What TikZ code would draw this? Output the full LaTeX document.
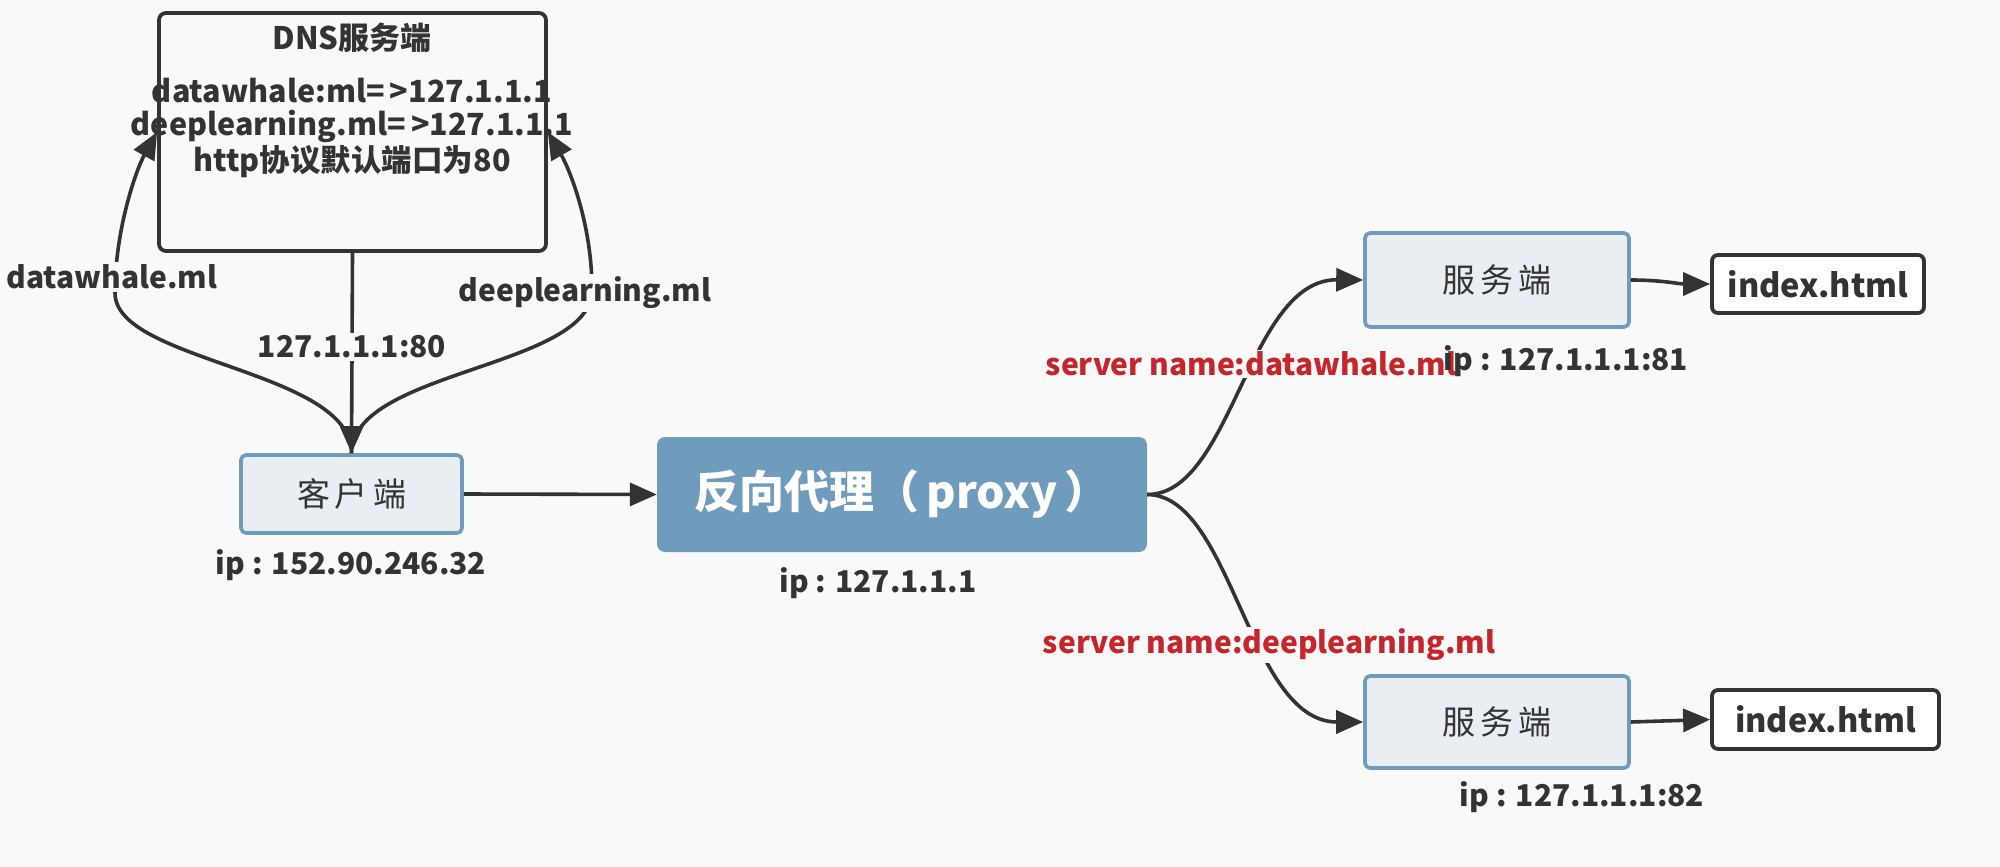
\documentclass[tikz,border=0pt]{standalone}
\usepackage{fontspec}
\setmainfont{Noto Sans CJK SC}
\usetikzlibrary{arrows.meta}
\definecolor{bg}{HTML}{F9F9F9}
\definecolor{ink}{HTML}{333333}
\definecolor{steel}{HTML}{6F9CBD}
\definecolor{pale}{HTML}{E8EEF2}
\definecolor{redlab}{HTML}{C4262B}
\tikzset{
  conn/.style={draw=ink, line width=3.6pt, -{Triangle[length=27pt,width=23pt]}},
  lab/.style={text=ink, font=\fontsize{30}{34}\selectfont\bfseries, inner sep=3pt},
  labbg/.style={lab, fill=bg},
  redl/.style={text=redlab, font=\fontsize{30}{34}\selectfont\bfseries, inner sep=2pt, fill=bg},
  dnsbox/.style={draw=ink, line width=3.8pt, rounded corners=7pt, fill=bg},
  palebox/.style={draw=steel, fill=pale, line width=3.6pt, rounded corners=5pt, text=ink, font=\fontsize{33}{36}\selectfont},
  proxybox/.style={fill=steel, rounded corners=8pt, text=white, font=\fontsize{45}{50}\selectfont\bfseries},
  filebox/.style={draw=ink, fill=white, line width=3.8pt, rounded corners=6pt, text=ink, font=\fontsize{32.5}{36}\selectfont\bfseries},
  dnstext/.style={text=ink, font=\fontsize{30.5}{34}\selectfont\bfseries, inner sep=0pt}
}
\begin{document}
\begin{tikzpicture}[x=1pt,y=-1pt]
\fill[bg] (0,0) rectangle (2000,867);
\useasboundingbox (0,0) rectangle (2000,867);

% boxes
\node[dnsbox, minimum width=387pt, minimum height=238pt] (dns) at (352.5,132) {};
\node[dnstext, font=\fontsize{31}{34}\selectfont\bfseries] (dnst) at (352,38) {DNS服务端};
\node[dnstext] (dns1) at (352,91) {datawhale:ml=\,>127.1.1.1};
\node[dnstext] (dns2) at (352,126) {deeplearning.ml=\,>127.1.1.1};
\node[dnstext] (dns3) at (352,162) {http协议默认端口为80};

\node[palebox, minimum width=221pt, minimum height=78pt] (client) at (351.5,494) {客\hspace{5pt}户\hspace{5pt}端};
\node[proxybox, minimum width=490pt, minimum height=115pt] (proxy) at (902,494.5) {反向代理（\,proxy\,）};
\node[palebox, minimum width=264pt, minimum height=94pt] (srv1) at (1497,280) {服\hspace{5pt}务\hspace{5pt}端};
\node[palebox, minimum width=264pt, minimum height=92pt] (srv2) at (1497,722) {服\hspace{5pt}务\hspace{5pt}端};
\node[filebox, minimum width=212pt, minimum height=58pt] (idx1) at (1818,284) {index.html};
\node[filebox, minimum width=227pt, minimum height=59pt] (idx2) at (1825.5,719.5) {index.html};

% connectors
\draw[conn] (dns.south) -- (client.north);
\draw[conn] (client.north) .. controls (352,370) and (115,362) .. (115,293)
  .. controls (115,230) and (136,170) .. (dns.west);
\draw[conn] (client.north) .. controls (352,370) and (592,368) .. (592,290)
  .. controls (592,225) and (570,170) .. (dns.east);
\draw[conn] (client.east) -- (proxy.west);
\draw[conn] (proxy.east) .. controls (1232,495) and (1248,279) .. (srv1.west);
\draw[conn] (proxy.east) .. controls (1232,495) and (1248,722) .. (srv2.west);
\draw[conn] (srv1.east) to[out=0,in=180] (idx1.west);
\draw[conn] (srv2.east) -- (idx2.west);

% labels
\node[labbg] (l80) at (352,347) {127.1.1.1:80};
\node[labbg] (ldw) at (112,277) {datawhale.ml};
\node[labbg] (ldl) at (585,293) {deeplearning.ml};
\node[redl] (rs1) at (1251,364) {server name:datawhale.ml};
\node[redl] (rs2) at (1269,645) {server name:deeplearning.ml};
\node[lab] (ipc) at (351,565) {ip : 152.90.246.32};
\node[lab] (ipp) at (878,583) {ip : 127.1.1.1};
\node[lab] (ips1) at (1566,361) {ip : 127.1.1.1:81};
\node[lab] (ips2) at (1582,797) {ip : 127.1.1.1:82};
\end{tikzpicture}
\end{document}
